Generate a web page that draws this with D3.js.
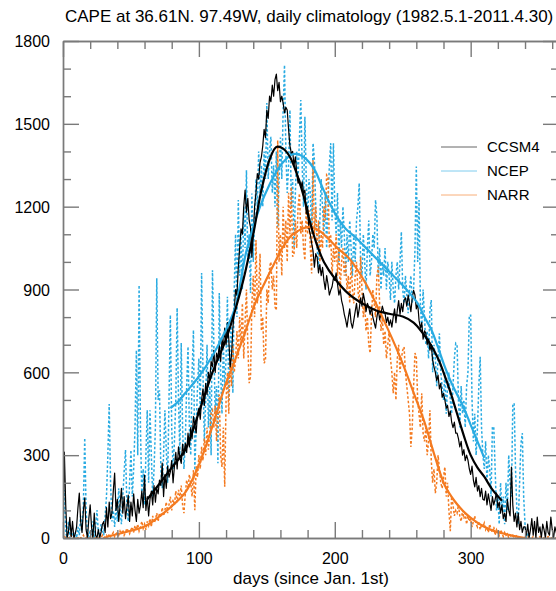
<!DOCTYPE html>
<html>
<head>
<meta charset="utf-8">
<script src="https://cdn.jsdelivr.net/npm/d3@7"></script>
<style>
  body { margin: 0; background: #fff; }
  svg { display: block; }
  text { font-family: "Liberation Sans", Arial, Helvetica, sans-serif; fill: #000; }
</style>
</head>
<body>
<svg id="chart" width="556" height="591"></svg>
<script>
// ---- text ----
const titleText = "CAPE at 36.61N. 97.49W, daily climatology (1982.5.1-2011.4.30)";
const xLabel = "days (since Jan. 1st)";
const seriesNames = ["CCSM4", "NCEP", "NARR"];
const seriesColors = ["#000000", "#29abe2", "#f47a20"];

// ---- ticks ----
const yTicks = [0, 300, 600, 900, 1200, 1500, 1800];
const yMinorTicks = [100, 200, 400, 500, 700, 800, 1000, 1100, 1300, 1400, 1600, 1700];
const xTicks = [0, 100, 200, 300];
const xMinorTicks = [20, 40, 60, 80, 120, 140, 160, 180, 220, 240, 260, 280, 320, 340, 360];

// ---- daily climatology (day 0 = Jan 1) ----
const ccsm4Daily = [
  10,311,120,0,20,75,5,60,0,15,
  40,110,163,60,20,100,145,30,0,70,
  120,40,0,90,10,0,30,0,20,50,
  60,20,110,40,130,70,90,170,235,100,
  140,60,120,180,90,150,70,110,155,60,
  130,80,160,100,60,140,90,120,170,110,
  228,100,150,80,140,170,120,190,130,180,
  160,210,190,271,150,230,180,260,220,240,
  280,200,260,310,250,330,290,270,340,300,
  343,310,380,330,400,360,440,410,380,450,
  470,430,500,540,480,560,520,600,572,640,
  620,680,600,670,650,700,640,720,690,760,
  700,780,720,620,660,760,820,900,880,980,
  1050,1120,1100,1200,1260,1180,1230,1150,1125,1017,
  1100,1200,1250,1320,1300,1360,1380,1420,1480,1450,
  1550,1520,1600,1580,1640,1600,1660,1680,1620,1650,
  1580,1600,1575,1540,1560,1550,1480,1420,1393,1400,
  1350,1380,1320,1285,1300,1270,1290,1248,1260,1175,
  1200,1120,1100,1067,1040,981,1030,1017,960,990,
  950,980,933,900,950,920,880,897,910,940,
  933,960,920,880,900,860,840,810,790,764,
  800,830,780,760,789,820,850,800,830,870,
  840,886,860,820,850,836,810,836,800,780,
  760,800,830,790,814,840,820,814,780,800,
  770,790,764,800,830,780,825,860,810,850,
  820,862,870,840,880,850,820,870,897,880,
  830,850,789,760,780,720,750,742,700,720,
  680,700,644,620,600,570,590,540,560,510,
  524,500,470,480,440,460,420,400,420,380,
  380,360,330,350,300,320,280,300,282,250,
  230,260,210,185,220,170,190,150,180,140,
  137,170,120,160,130,100,150,120,140,163,
  110,130,90,120,70,90,60,140,100,80,
  257,120,60,90,40,90,30,60,20,40,
  40,10,50,0,30,70,10,60,0,76,
  20,40,0,50,30,0,60,20,10,76,
  30,0,40,20,0
];

const ncepDaily = [
  40,174,20,0,60,0,30,10,0,20,
  0,40,10,80,30,120,362,100,20,0,
  30,10,60,0,40,101,20,0,50,30,
  10,80,150,300,485,200,60,100,40,120,
  60,180,100,50,150,240,319,120,60,200,
  319,150,250,400,680,300,916,400,150,250,
  120,300,463,200,463,300,150,250,400,941,
  500,535,250,180,300,463,320,200,500,808,
  400,250,350,500,833,500,300,706,400,250,
  350,550,693,400,300,600,753,246,400,550,
  650,450,960,600,350,500,700,400,550,300,
  970,700,450,550,271,887,600,450,700,550,
  650,874,500,700,800,525,900,1100,800,1224,
  950,1100,900,1200,1050,1332,1000,1100,887,1248,
  1000,1150,1300,1200,1400,1250,1350,1200,1400,1300,
  1575,1300,1400,1453,1250,1350,1200,1400,1126,1300,
  1450,1300,1550,1713,1400,1250,1350,1550,1200,1300,
  1054,1250,1400,1300,1450,1586,1350,1200,1526,1300,
  1150,1300,1250,1100,1430,1369,1200,1050,981,1150,
  1300,1200,1100,1250,1050,1200,1350,1430,1150,1430,
  1200,1100,1250,1000,1150,1050,1200,1100,950,1100,
  1000,1150,1050,950,1100,1000,1150,1200,1285,1000,
  950,1100,1000,900,1050,1150,950,1000,1100,1050,
  1224,1163,950,1050,900,1000,950,1050,900,1000,
  950,862,1000,900,850,950,1000,900,1000,1109,
  900,850,950,880,814,900,950,850,900,1043,
  1345,1000,1224,850,750,900,800,700,750,650,
  825,862,600,700,650,550,650,741,600,550,
  500,600,450,550,600,500,450,550,650,705,
  699,500,400,550,450,500,400,550,600,807,
  807,500,350,450,300,400,550,656,400,300,
  250,350,200,300,250,150,402,403,250,100,
  150,50,200,100,150,50,200,100,300,200,
  150,481,488,250,100,50,200,343,380,150,
  50,0,20,0,0
];

const narrDaily = [
  0,10,0,5,0,0,10,0,0,5,
  0,0,5,0,0,10,0,0,5,0,
  0,0,10,0,0,5,0,0,0,10,
  0,5,10,0,15,5,10,20,5,15,
  20,10,25,15,30,10,20,35,25,15,
  30,40,20,45,30,50,25,40,60,35,
  50,30,60,45,70,40,80,55,65,90,
  60,90,75,110,80,100,130,90,120,150,
  100,140,120,170,130,174,150,190,120,90,
  160,210,180,230,200,150,246,101,260,220,
  300,250,330,280,360,300,400,320,380,453,
  463,400,480,350,450,520,300,257,400,186,
  500,600,450,650,550,700,600,644,750,650,
  800,700,850,650,780,900,700,561,584,850,
  950,800,1079,850,900,1030,750,800,633,644,
  900,850,982,1000,900,950,837,825,1440,1000,
  1100,950,1200,1050,1150,1000,1250,1100,1271,1019,
  1030,1150,1050,1200,1248,1100,1150,1050,1006,1200,
  1100,1187,1050,958,1369,1100,1200,1050,1150,1000,
  1100,1050,1200,1150,1315,1308,1050,1100,950,1050,
  1000,1100,950,1050,900,1000,1050,950,1000,900,
  950,850,1000,900,850,950,1000,900,850,1019,
  900,800,850,750,800,700,670,800,900,850,
  800,950,982,850,750,800,700,750,650,700,
  750,650,600,524,600,500,650,700,600,650,
  680,692,600,550,500,450,330,400,550,670,
  656,500,450,400,524,380,350,400,300,350,
  463,282,200,250,162,200,300,250,200,180,
  220,257,150,200,100,25,150,120,80,100,
  90,120,80,60,100,70,90,50,80,60,
  70,40,60,80,50,40,60,30,50,40,
  54,30,40,20,50,30,20,40,10,30,
  20,10,30,20,5,20,10,15,0,10,
  5,10,0,5,10,0,5,0,0,5,
  0,0,5,0,0,0,5,0,0,0,
  0,5,0,0,0,0,0,5,0,0,
  0,0,0,0,0
];

// ---- smoothed curves ----
const ccsm4SmoothDays = [62,70,80,90,100,110,120,127,133,140,146,152,157,162,167,172,177,182,187,192,200,210,220,230,240,250,258,265,270,276,280,285,290,295,300,305,310,316,323];
const ccsm4SmoothVals = [140,190,255,320,455,600,720,830,940,1100,1260,1370,1416,1410,1380,1320,1240,1140,1060,1000,940,885,850,825,812,802,780,740,705,650,600,530,450,370,300,255,222,175,135];

const ncepSmoothDays = [79,85,90,100,110,120,127,135,145,152,158,164,169,174,179,185,190,196,202,208,215,227,239,251,261,266,271,276,281,286,290,295,300,305,310];
const ncepSmoothVals = [470,495,525,585,660,755,840,1040,1200,1280,1335,1372,1390,1388,1372,1335,1280,1215,1160,1120,1090,1030,970,910,850,800,755,690,620,560,520,470,410,350,290];

const narrSmoothDays = [30,35,45,60,70,80,90,100,110,119,127,134,141,149,155,162,168,174,181,188,195,202,211,223,235,248,260,266,270,274,281,288,296,303,310,318,325,333,340];
const narrSmoothVals = [0,8,20,42,75,115,165,265,405,547,650,745,845,930,990,1055,1095,1115,1127,1115,1085,1050,1010,920,800,656,500,420,355,290,190,135,90,62,41,24,15,6,0];

// ---- layout ----
const svg = d3.select("#chart");
const plot = { left: 63, right: 559, top: 41, bottom: 538 };
const x = d3.scaleLinear().domain([0, 365]).range([plot.left, plot.right]);
const y = d3.scaleLinear().domain([0, 1800]).range([plot.bottom, plot.top]);
const axisColor = "#7a7a7a";

svg.append("defs").append("clipPath").attr("id", "plotClip")
  .append("rect")
  .attr("x", plot.left).attr("y", plot.top)
  .attr("width", plot.right - plot.left).attr("height", plot.bottom - plot.top);

const layer = svg.append("g").attr("clip-path", "url(#plotClip)");

const dailyLine = d3.line().x((d, i) => x(i)).y(d => y(d));
const smoothLine = d3.line().x(d => x(d[0])).y(d => y(d[1])).curve(d3.curveCatmullRom.alpha(0.5));

// daily series
layer.append("path").datum(ncepDaily).attr("d", dailyLine)
  .attr("fill", "none").attr("stroke", seriesColors[1]).attr("stroke-width", 1.5)
  .attr("stroke-dasharray", "2.5,2");
layer.append("path").datum(narrDaily).attr("d", dailyLine)
  .attr("fill", "none").attr("stroke", seriesColors[2]).attr("stroke-width", 1.5)
  .attr("stroke-dasharray", "2.5,2");
layer.append("path").datum(ccsm4Daily).attr("d", dailyLine)
  .attr("fill", "none").attr("stroke", seriesColors[0]).attr("stroke-width", 1.2)
  .attr("stroke-linejoin", "round");

// smoothed series
const smooths = [
  [narrSmoothDays, narrSmoothVals, seriesColors[2]],
  [ncepSmoothDays, ncepSmoothVals, seriesColors[1]],
  [ccsm4SmoothDays, ccsm4SmoothVals, seriesColors[0]]
];
smooths.forEach(([days, vals, color]) => {
  layer.append("path").datum(days.map((d, i) => [d, vals[i]]))
    .attr("d", smoothLine)
    .attr("fill", "none").attr("stroke", color).attr("stroke-width", 2.2);
});

// ---- axes (ticks point inward on all four sides) ----
function styleAxis(g) {
  g.select(".domain").attr("stroke", axisColor).attr("stroke-width", 1.4);
  g.selectAll(".tick line").attr("stroke", axisColor).attr("stroke-width", 1.4);
  g.selectAll("text").attr("fill", "#000").style("font-size", "16px")
    .style("font-family", "'Liberation Sans', Arial, sans-serif");
}
const intFmt = d3.format("d");

svg.append("g").attr("transform", `translate(${plot.left},0)`)
  .call(d3.axisLeft(y).tickValues(yTicks).tickFormat(intFmt).tickSize(-16).tickSizeOuter(0).tickPadding(13))
  .call(styleAxis).call(g => g.selectAll("text").attr("dy", "0.36em"));
svg.append("g").attr("transform", `translate(${plot.left},0)`)
  .call(d3.axisLeft(y).tickValues(yMinorTicks).tickSize(-8).tickSizeOuter(0).tickFormat(""))
  .call(styleAxis);

svg.append("g").attr("transform", `translate(${plot.right},0)`)
  .call(d3.axisRight(y).tickValues(yTicks).tickSize(-16).tickSizeOuter(0).tickFormat(""))
  .call(styleAxis);
svg.append("g").attr("transform", `translate(${plot.right},0)`)
  .call(d3.axisRight(y).tickValues(yMinorTicks).tickSize(-8).tickSizeOuter(0).tickFormat(""))
  .call(styleAxis);

svg.append("g").attr("transform", `translate(0,${plot.bottom})`)
  .call(d3.axisBottom(x).tickValues(xTicks).tickFormat(intFmt).tickSize(-16).tickSizeOuter(0).tickPadding(15))
  .call(styleAxis);
svg.append("g").attr("transform", `translate(0,${plot.bottom})`)
  .call(d3.axisBottom(x).tickValues(xMinorTicks).tickSize(-8).tickSizeOuter(0).tickFormat(""))
  .call(styleAxis);

svg.append("g").attr("transform", `translate(0,${plot.top})`)
  .call(d3.axisTop(x).tickValues(xTicks).tickSize(-16).tickSizeOuter(0).tickFormat(""))
  .call(styleAxis);
svg.append("g").attr("transform", `translate(0,${plot.top})`)
  .call(d3.axisTop(x).tickValues(xMinorTicks).tickSize(-8).tickSizeOuter(0).tickFormat(""))
  .call(styleAxis);

// ---- title and axis label ----
svg.append("text").attr("x", 65).attr("y", 22)
  .style("font-size", "17px").text(titleText);
svg.append("text").attr("x", (plot.left + plot.right) / 2).attr("y", 584)
  .attr("text-anchor", "middle").style("font-size", "17px").text(xLabel);

// ---- legend ----
const legend = svg.append("g");
seriesNames.forEach((name, i) => {
  const ly = 147 + i * 24;
  legend.append("line").attr("x1", 441).attr("x2", 477).attr("y1", ly).attr("y2", ly)
    .attr("stroke", seriesColors[i]).attr("stroke-width", 1).attr("stroke-opacity", 0.6);
  legend.append("text").attr("x", 487).attr("y", ly).attr("dy", "0.35em")
    .style("font-size", "15px").text(name);
});
</script>
</body>
</html>
